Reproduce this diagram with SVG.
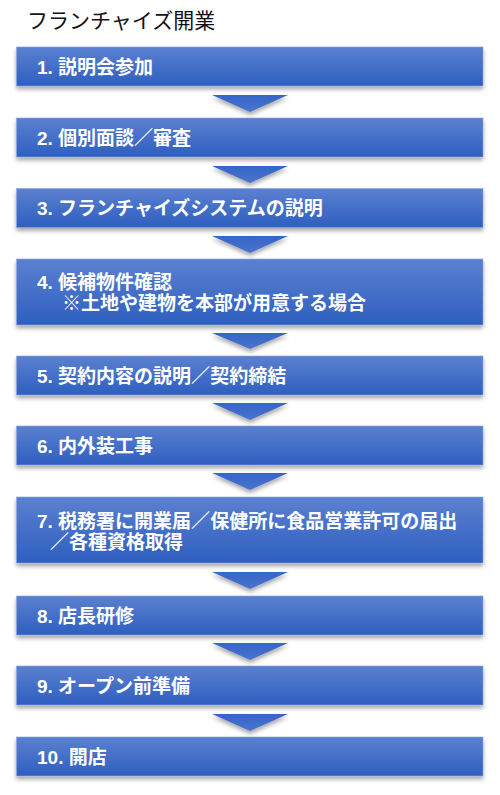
<svg xmlns="http://www.w3.org/2000/svg" width="500" height="795" viewBox="0 0 500 795">
<defs>
<linearGradient id="g" x1="0" y1="0" x2="0" y2="1">
<stop offset="0" stop-color="#5b80d0"/>
<stop offset="1" stop-color="#2e5fc0"/>
</linearGradient>
<linearGradient id="ga" x1="0" y1="0" x2="0" y2="1">
<stop offset="0" stop-color="#3565c8"/>
<stop offset="1" stop-color="#4a74cc"/>
</linearGradient>
<filter id="sh" x="-5%" y="-20%" width="110%" height="150%">
<feDropShadow dx="0" dy="3" stdDeviation="2" flood-color="#000" flood-opacity="0.35"/>
</filter>
</defs>
<style>
.box{fill:url(#g);stroke:#8aa6e0;stroke-width:0.6;filter:url(#sh)}
.arr{fill:url(#ga);filter:url(#sh)}
.t{font-family:"Liberation Sans","Noto Sans CJK JP",sans-serif;font-weight:bold;font-size:19px;fill:#fff}
.title{font-family:"Liberation Sans","Noto Sans CJK JP",sans-serif;font-size:21px;fill:#111}
</style>
<rect width="500" height="795" fill="#fff"/>
<text class="title" x="27" y="28">フランチャイズ開業</text>
<g id="connectors">
<polygon class="arr" points="212,95 288,95 250,112"/>
<polygon class="arr" points="212,166 288,166 250,183"/>
<polygon class="arr" points="212,236 288,236 250,253"/>
<polygon class="arr" points="212,333 288,333 250,349"/>
<polygon class="arr" points="212,403 288,403 250,420"/>
<polygon class="arr" points="212,473 288,473 250,490"/>
<polygon class="arr" points="212,572 288,572 250,589"/>
<polygon class="arr" points="212,643 288,643 250,660"/>
<polygon class="arr" points="212,714 288,714 250,731"/>
</g>
<g id="n1"><rect class="box" x="16.5" y="47" width="466.5" height="39"/><text class="t" x="37" y="73.5">1. 説明会参加</text></g>
<g id="n2"><rect class="box" x="16.5" y="118" width="466.5" height="39"/><text class="t" x="37" y="144.5">2. 個別面談／審査</text></g>
<g id="n3"><rect class="box" x="16.5" y="188.5" width="466.5" height="39"/><text class="t" x="37" y="215">3. フランチャイズシステムの説明</text></g>
<g id="n4"><rect class="box" x="16.5" y="259" width="466.5" height="66"/><text class="t" x="37" y="288.5">4. 候補物件確認</text><text class="t" x="62" y="309.5">※土地や建物を本部が用意する場合</text></g>
<g id="n5"><rect class="box" x="16.5" y="356" width="466.5" height="39"/><text class="t" x="37" y="382.5">5. 契約内容の説明／契約締結</text></g>
<g id="n6"><rect class="box" x="16.5" y="426" width="466.5" height="39"/><text class="t" x="37" y="452.5">6. 内外装工事</text></g>
<g id="n7"><rect class="box" x="16.5" y="497" width="466.5" height="66"/><text class="t" x="37" y="527.5">7. 税務署に開業届／保健所に食品営業許可の届出</text><text class="t" x="50" y="548.5">／各種資格取得</text></g>
<g id="n8"><rect class="box" x="16.5" y="596" width="466.5" height="39"/><text class="t" x="37" y="622.5">8. 店長研修</text></g>
<g id="n9"><rect class="box" x="16.5" y="666" width="466.5" height="39"/><text class="t" x="37" y="692.5">9. オープン前準備</text></g>
<g id="n10"><rect class="box" x="16.5" y="737" width="466.5" height="39"/><text class="t" x="37" y="763.5">10. 開店</text></g>
</svg>
